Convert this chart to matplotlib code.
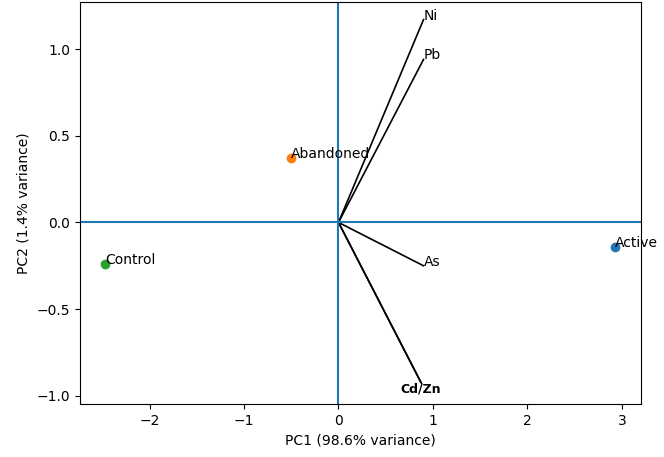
import matplotlib
matplotlib.use("Agg")
import matplotlib.pyplot as plt

groups = ["Active", "Abandoned", "Control"]
pc1 = [2.93, -0.50, -2.47]
pc2 = [-0.14, 0.37, -0.24]
colors = ["#1f77b4", "#ff7f0e", "#2ca02c"]

metals = ["Ni", "Pb", "As", "Cd", "Zn"]
load1 = [0.90, 0.90, 0.90, 0.87, 0.88]
load2 = [1.17, 0.94, -0.25, -0.92, -0.93]

fig, ax = plt.subplots(figsize=(6.64, 4.57), dpi=100)
for g, x, y, c in zip(groups, pc1, pc2, colors):
    ax.scatter(x, y, color=c, zorder=3)
    ax.text(x, y, g, fontsize=10)
for m, x, y in zip(metals, load1, load2):
    ax.plot([0, x], [0, y], color="black", lw=1.2)
for m, x, y in zip(metals[:3], load1[:3], load2[:3]):
    ax.text(x, y, m, fontsize=10)
ax.text(sum(load1[3:]) / 2, min(load2[3:]) - 0.07, "/".join(metals[3:]),
        fontsize=9, fontweight="bold", ha="center", va="bottom")
ax.axhline(0, color="#1f77b4")
ax.axvline(0, color="#1f77b4")
ax.set_xlim(-2.74, 3.2)
ax.set_ylim(-1.05, 1.27)
ax.set_xlabel("PC1 (98.6% variance)")
ax.set_ylabel("PC2 (1.4% variance)")
fig.subplots_adjust(left=0.12, right=0.965, top=0.995, bottom=0.115)
fig.savefig("out.png", dpi=100)
